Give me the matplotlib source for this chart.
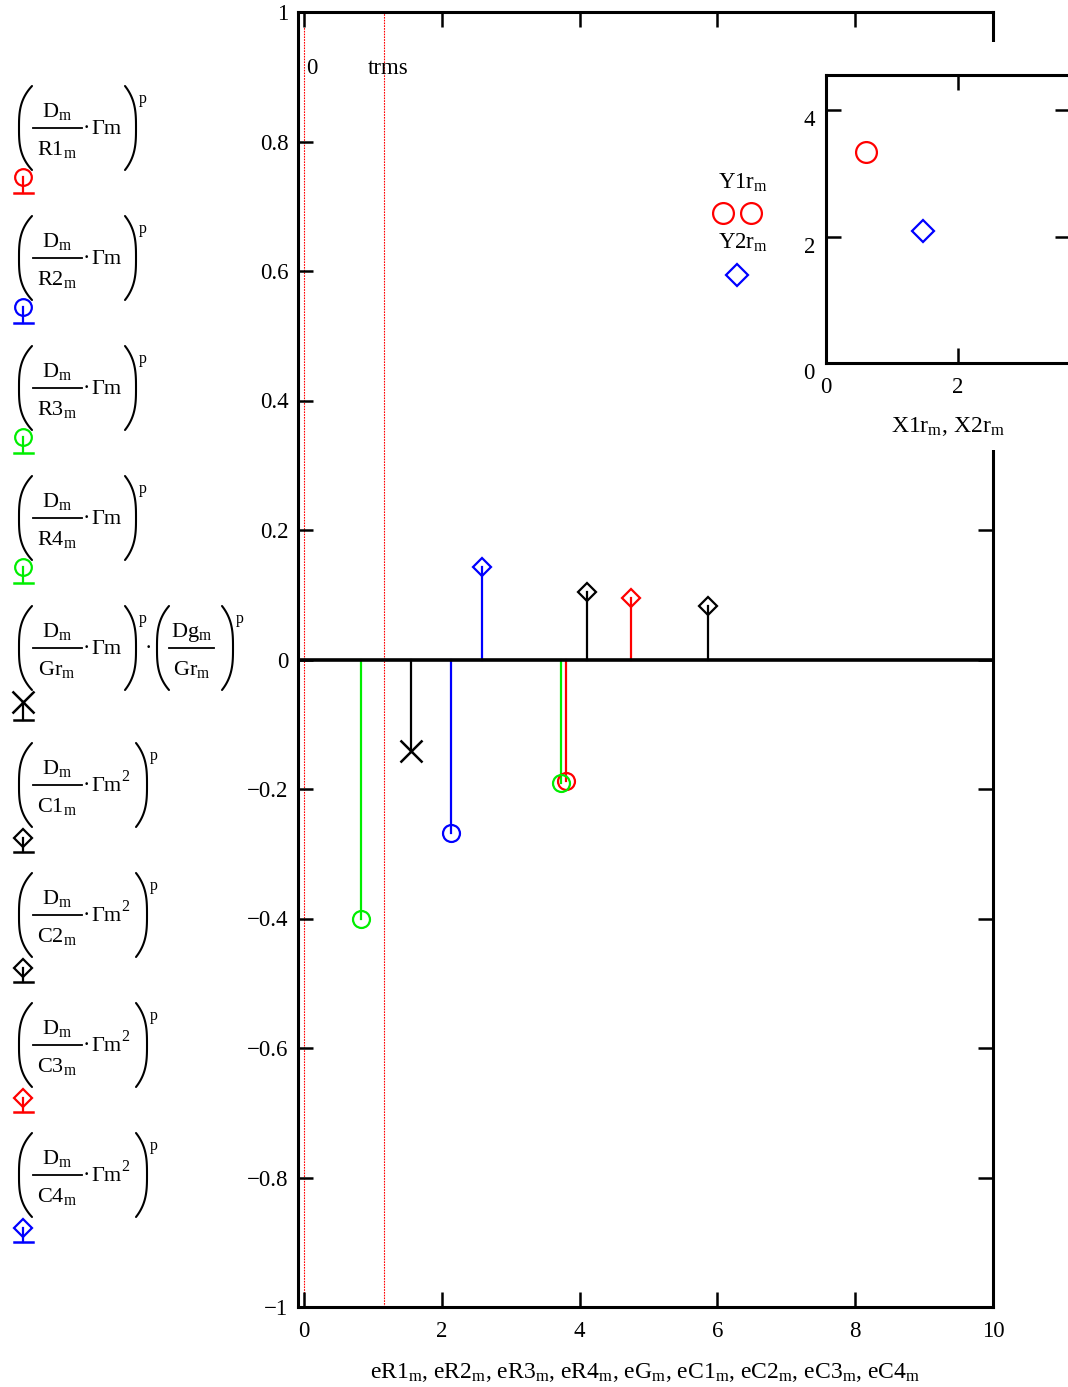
import matplotlib
matplotlib.use('Agg')
import numpy as np
import matplotlib.pyplot as plt
from matplotlib.lines import Line2D
from matplotlib.patches import Rectangle

plt.rcParams['font.family'] = ['Liberation Serif', 'DejaVu Serif']
plt.rcParams['mathtext.fontset'] = 'stix'
plt.rcParams['mathtext.default'] = 'regular'

W, H = 1068, 1387

# relative errors of each element, plotted as stems
series_names = ['eR1', 'eR2', 'eR3', 'eR4', 'eG', 'eC1', 'eC2', 'eC3', 'eC4']
series_x = [3.81, 2.14, 0.83, 3.73, 1.55, 4.11, 5.86, 4.74, 2.58]
series_y = [-0.188, -0.268, -0.400, -0.190, -0.142, 0.104, 0.083, 0.095, 0.143]
series_colors = ['red', 'blue', '#00ee00', '#00ee00', 'black', 'black', 'black', 'red', 'blue']
series_markers = ['o', 'o', 'o', 'o', 'x', 'D', 'D', 'D', 'D']

# sensitivity expressions used as trace names: (D_m / den_m · Γm^k)^p
expr_den = ['R1', 'R2', 'R3', 'R4', 'Gr', 'C1', 'C2', 'C3', 'C4']
expr_gamma_pow = ['', '', '', '', '', '2', '2', '2', '2']

# vertical markers
vmark_x = [0.0, 1.17]
vmark_labels = ['0', 'trms']

# inset scatter
X1r = [0.6]
Y1r = [3.34]
X2r = [1.47]
Y2r = [2.09]

xticks = [0, 2, 4, 6, 8, 10]
yticks = [1, 0.8, 0.6, 0.4, 0.2, 0, -0.2, -0.4, -0.6, -0.8, -1]
ytick_labels = ['1', '0.8', '0.6', '0.4', '0.2', '0',
                '\u22120.2', '\u22120.4', '\u22120.6', '\u22120.8', '\u22121']

FS = 16.5


def fx(px):
    return px / W


def fy(py):
    return 1 - py / H


fig = plt.figure(figsize=(W / 100, H / 100), dpi=100)


def ptext(px, py, s, size=16, ha='left', va='baseline', **kw):
    return fig.text(fx(px), fy(py), s, fontsize=size, ha=ha, va=va, **kw)


def pline(xs, ys, color='black', lw=1.1, **kw):
    fig.add_artist(Line2D([fx(v) for v in xs], [fy(v) for v in ys], color=color, lw=lw,
                          transform=fig.transFigure, **kw))


def paren(xl, xr, yc, half_h, left=True):
    # tall bracket: nearly straight in the middle, turning in at both ends
    u = np.linspace(-1, 1, 80)
    bend = (xr - xl) * np.abs(u) ** 3
    xs = xl + bend if left else xr - bend
    ys = yc + half_h * u
    pline(xs, ys, lw=1.5, solid_capstyle='round')


def fraction(xc, x0, x1, yb, num, den):
    ptext(xc, yb - 11, num, ha='center')
    pline([x0, x1], [yb, yb], lw=1.3)
    ptext(xc, yb + 27, den, ha='center')


ax = fig.add_axes([fx(298), fy(1307), 695 / W, 1295 / H])
ax.set_xlim(-0.085, 10)
ax.set_ylim(-1, 1)
ax.set_xticks(xticks)
ax.set_xticklabels([str(t) for t in xticks])
ax.set_yticks(yticks)
ax.set_yticklabels(ytick_labels)
ax.tick_params(axis='both', direction='in', length=11, width=1.8, top=True, right=True,
               labelsize=FS, colors='black')
ax.tick_params(axis='x', pad=10)
ax.tick_params(axis='y', pad=7)
for s in ax.spines.values():
    s.set_linewidth(2.2)

for v in vmark_x:
    ax.axvline(v, color='red', lw=0.8, ls=(0, (1.5, 1)), zorder=1)

for x, y, c, m in zip(series_x, series_y, series_colors, series_markers):
    ax.plot([x, x], [0, y], color=c, lw=1.6, zorder=2)
    if m == 'x':
        ax.plot(x, y, marker='x', ms=16, mec=c, mew=1.8, ls='none', zorder=3)
    elif m == 'D':
        ax.plot(x, y, marker='D', ms=9, mfc='none', mec=c, mew=1.6, ls='none', zorder=3)
    else:
        ax.plot(x, y, marker='o', ms=12.2, mfc='none', mec=c, mew=1.6, ls='none', zorder=3)
ax.axhline(0, color='black', lw=2.6, zorder=4)

ax.set_xlabel(', '.join(n + '$_m$' for n in series_names), fontsize=17, labelpad=14)

ptext(306, 68, vmark_labels[0], size=FS, va='center')
ptext(388, 68, vmark_labels[1], size=FS, ha='center', va='center')

# trace names: expression plus marker glyph underneath
legend_y = [128, 258, 388, 518, 648, 785, 915, 1045, 1175]
marker_off = {'o': (49, 65), 'x': (54, 72), 'D': (53, 67)}
for i, (den, gp, c, m) in enumerate(zip(expr_den, expr_gamma_pow, series_colors, series_markers)):
    yb = legend_y[i]
    paren(19, 32, yb, 42, left=True)
    fraction(57, 33, 82, yb, 'D$_m$', den + '$_m$')
    ptext(86, yb + 6, '\u00b7', ha='center')
    ptext(91, yb + 6, '\u0393m')
    if gp:
        ptext(121.5, yb - 4, gp, size=11.5)
        paren(136, 147, yb, 42, left=False)
        ptext(150, yb - 25, 'p', size=11.5)
    else:
        paren(125, 136, yb, 42, left=False)
        ptext(139, yb - 25, 'p', size=11.5)
    if den == 'Gr':
        ptext(148, yb + 6, '\u00b7', ha='center')
        paren(157, 169, yb, 42, left=True)
        fraction(192, 169, 214, yb, 'Dg$_m$', 'Gr$_m$')
        paren(222, 233, yb, 42, left=False)
        ptext(236, yb - 25, 'p', size=11.5)

    mc, mb = marker_off[m]
    ym, base = yb + mc, yb + mb
    pline([23, 23], [ym, base], color=c, lw=1.6)
    pline([14, 33], [base, base], color=c, lw=1.8)
    if m == 'x':
        fig.add_artist(Line2D([fx(23)], [fy(ym)], marker='x', ms=16, mec=c, mew=1.8,
                              transform=fig.transFigure))
    elif m == 'D':
        fig.add_artist(Line2D([fx(23)], [fy(ym)], marker='D', ms=9, mfc='none', mec=c,
                              mew=1.6, transform=fig.transFigure))
    else:
        fig.add_artist(Line2D([fx(23)], [fy(ym)], marker='o', ms=12, mfc='none', mec=c,
                              mew=1.6, transform=fig.transFigure))

# white panel behind the inset
fig.add_artist(Rectangle((fx(700), fy(450)), (W - 700) / W, (450 - 42) / H,
                         transform=fig.transFigure, facecolor='white',
                         edgecolor='none', zorder=5))

axi = fig.add_axes([fx(826), fy(363), (1070 - 826) / W, (363 - 75) / H])
axi.set_zorder(10)
axi.set_xlim(0, 3.70)
axi.set_ylim(0, 4.56)
axi.set_xticks([0, 2])
axi.set_yticks([0, 2, 4])
axi.tick_params(direction='in', length=11, width=1.8, top=True, right=True,
                labelsize=FS)
axi.tick_params(axis='x', pad=10)
axi.tick_params(axis='y', pad=8)
for lbl in axi.get_yticklabels():
    lbl.set_va('top')
for s in axi.spines.values():
    s.set_linewidth(2.2)
axi.plot(X1r, Y1r, 'o', ms=15, mfc='none', mec='red', mew=1.6)
axi.plot(X2r, Y2r, 'D', ms=11, mfc='none', mec='blue', mew=1.6)
axi.set_xlabel('X1r$_m$, X2r$_m$', fontsize=17, labelpad=12)

# inset trace names
ptext(743, 183, 'Y1r$_m$', size=FS, ha='center', va='center', zorder=11)
fig.add_artist(Line2D([fx(723), fx(751)], [fy(213), fy(213)], ls='none', marker='o', ms=15,
                      mfc='none', mec='red', mew=1.6, transform=fig.transFigure, zorder=11))
ptext(743, 243, 'Y2r$_m$', size=FS, ha='center', va='center', zorder=11)
fig.add_artist(Line2D([fx(737)], [fy(275)], ls='none', marker='D', ms=11,
                      mfc='none', mec='blue', mew=1.6, transform=fig.transFigure, zorder=11))

fig.savefig('out.png', dpi=100)
